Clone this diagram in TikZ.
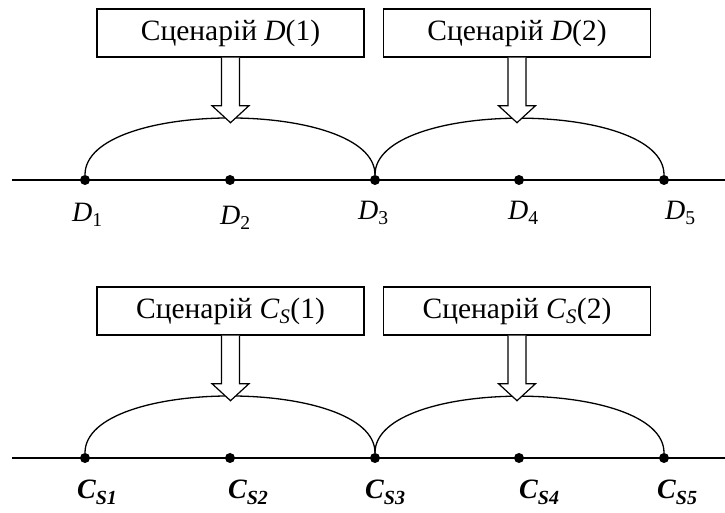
\documentclass[tikz,border=0pt]{standalone}
\usepackage{fontspec}
\setmainfont{Liberation Serif}
\usetikzlibrary{positioning,calc}
\tikzset{
  axis/.style={draw=black, line width=2.7bp},
  dot/.style={circle, fill=black, inner sep=0pt, minimum size=10bp},
  scenbox/.style={draw=black, fill=white, line width=1.4bp, minimum width=267bp,
                  minimum height=48bp, inner sep=0pt, font=\fontsize{29.5bp}{33bp}\selectfont},
  hollow/.style={draw=black, fill=white, line width=1.2bp, line join=miter},
  span/.style={draw=black, line width=1.3bp, out=90, in=90, looseness=0.67},
  dlab/.style={font=\fontsize{28bp}{32bp}\selectfont, anchor=base west, inner sep=0pt},
  clab/.style={font=\fontsize{28bp}{32bp}\selectfont\bfseries\itshape, anchor=base west, inner sep=0pt},
}
% hollow down arrow hanging from the bottom of a box
\newcommand{\downarrowfrom}[1]{%
  \draw[hollow] ($(#1.south)+(-9,0)$) -- ++(0,-48) -- ++(-9.5,0) -- ++(18.5,-17)
    -- ++(18.5,17) -- ++(-9.5,0) -- ++(0,48);}
% bold italic C with its subscript
\newcommand{\csub}[1]{C\raisebox{-6bp}{\fontsize{20bp}{20bp}\selectfont S#1}}

\begin{document}
\begin{tikzpicture}[x=1bp,y=1bp]
\useasboundingbox (0,0) rectangle (725,513);

% Scenarios D ------------------------------------------------------------------
\coordinate (dl) at (12,333);
\coordinate (dr) at (725,333);
\draw[axis] (dl) -- (dr);

\node[dot] (d1) at (85,333) {};
\node[dot] (d2) at (230,333) {};
\node[dot] (d3) at (375,333) {};
\node[dot] (d4) at (519,333) {};
\node[dot] (d5) at (664,333) {};

\node[dlab] (ld1) at ($(d1)+(-13,-42)$) {\textit{D}\textsubscript{1}};
\node[dlab] (ld2) at ($(d2)+(-10,-45)$) {\textit{D}\textsubscript{2}};
\node[dlab] (ld3) at ($(d3)+(-17,-40)$) {\textit{D}\textsubscript{3}};
\node[dlab] (ld4) at ($(d4)+(-11,-40)$) {\textit{D}\textsubscript{4}};
\node[dlab] (ld5) at ($(d5)+(1,-40)$) {\textit{D}\textsubscript{5}};

\draw[span] (d1) to (d3);
\draw[span] (d3) to (d5);

\node[scenbox] (sd1) at (230.5,480) {Сценарій \textit{D}(1)};
\node[scenbox] (sd2) at (517,480) {Сценарій \textit{D}(2)};

\downarrowfrom{sd1}
\downarrowfrom{sd2}

% Scenarios C_S ----------------------------------------------------------------
\coordinate (cl) at (12,55);
\coordinate (cr) at (725,55);
\draw[axis] (cl) -- (cr);

\node[dot] (c1) at (85,55) {};
\node[dot] (c2) at (230,55) {};
\node[dot] (c3) at (375,55) {};
\node[dot] (c4) at (519,55) {};
\node[dot] (c5) at (664,55) {};

\node[clab] (lc1) at ($(c1)+(-8,-41)$) {\csub{1}};
\node[clab] (lc2) at ($(c2)+(-2,-41)$) {\csub{2}};
\node[clab] (lc3) at ($(c3)+(-10,-41)$) {\csub{3}};
\node[clab] (lc4) at ($(c4)+(0,-41)$) {\csub{4}};
\node[clab] (lc5) at ($(c5)+(-7,-41)$) {\csub{5}};

\draw[span] (c1) to (c3);
\draw[span] (c3) to (c5);

\node[scenbox] (sc1) at (230.5,202) {Сценарій \textit{C}\textsubscript{\textit{S}}(1)};
\node[scenbox] (sc2) at (517,202) {Сценарій \textit{C}\textsubscript{\textit{S}}(2)};

\downarrowfrom{sc1}
\downarrowfrom{sc2}

\end{tikzpicture}
\end{document}
